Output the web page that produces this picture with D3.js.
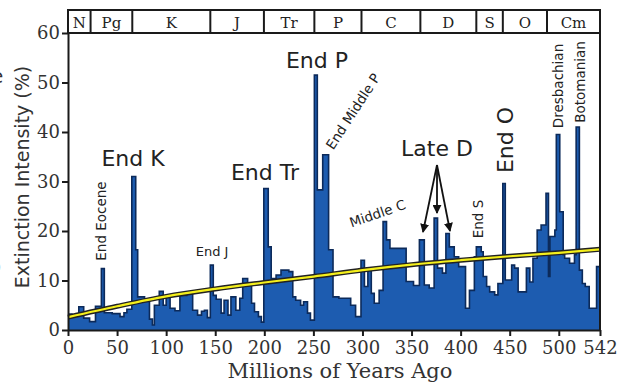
<!DOCTYPE html>
<html><head><meta charset="utf-8">
<script src="https://cdn.jsdelivr.net/npm/d3@7"></script>
<style>
html,body{margin:0;padding:0;background:#fff;overflow:hidden}
svg{display:block}
</style></head>
<body>
<svg id="chart" width="621" height="384"></svg>
<script>
// ---------- data ----------
const periodNames = ["N","Pg","K","J","Tr","P","C","D","S","O","Cm"];
const periodBounds = [0, 23, 65.5, 145, 199.6, 251, 299, 359, 416, 443, 488, 542];

// start of each step (Millions of years ago) and extinction intensity (%)
const stepStarts = [0,4,11,16,22,28,34,37,45,53,57,60,65,69,71,78,83,86,88,93,97,100,104,109,114,121,127,132,136,139,142,145,148,151,156,159,163,166,171,175,178,183,187,190,194,197,199.5,204,207,212,217,225,229,232,237,240,244,247,251,254,259.5,265.5,270,276,288,293,298.5,302,305.5,309,312,317,321,324.5,328,344.5,352,358,363,368,373,376.5,381.5,385,388.5,393.5,398,405,409,414,416,421,423,426.5,429.6,434.7,438,443,445.5,452,455,458.6,467,470.5,473.7,478,482,487,489.5,491,496,497.5,501,504.5,506,511,516,517.7,521,524,527,531,538.5];
const intensity = [3.2,2.8,4.7,2.4,1.7,4.8,12.4,3.5,3.3,2.7,3.5,4.2,31,16.2,6.7,6.3,2.2,1.0,5.0,7.8,5.0,6.7,4.4,3.9,7.0,7.7,4.0,3.0,3.8,4.0,2.5,13.1,7.0,6.2,3.4,6.0,3.0,6.7,4.0,6.4,10.4,9.4,5.4,3.7,2.7,1.6,28.6,16.8,10.4,11.1,12.1,11.8,6.7,6.0,5.0,5.7,3.4,2.0,51.5,28.3,35.4,16.2,6.7,6.4,5.0,2.7,14.1,8.8,12.1,7.4,5.4,8.0,21.9,18.2,16.5,9.8,9.0,18.2,9.1,8.5,22.6,12.5,11.5,19.5,16.8,14.8,12.8,4.4,8.0,14.8,16.8,15.8,10.8,8.8,7.7,7.1,9.4,29.6,10.1,13.1,12.5,7.7,12.5,9.7,14.5,20.2,21.2,27.6,10.8,18.9,20.2,39.5,23.9,15.2,14.5,13.5,15.2,41.0,12.1,9.4,8.8,4.4,12.8];
const endAge = 542;

// long-term trend (yellow line)
const trendAges = [0,50,100,150,200,250,300,350,400,450,500,542];
const trendValues = [2.6,4.8,6.8,8.3,9.6,10.8,12.1,13.2,14.1,14.9,15.6,16.3];

const xTicks = [0,50,100,150,200,250,300,350,400,450,500,542];
const yTicks = [0,10,20,30,40,50,60];

// ---------- layout ----------
const svg = d3.select("#chart");
const x = d3.scaleLinear().domain([0, 542]).range([68, 600]);
const y = d3.scaleLinear().domain([0, 60]).range([330, 33]);
const headerTop = 10;
const serif = "'DejaVu Serif', serif";
const sans = "'DejaVu Sans', sans-serif";

const steps = stepStarts.map((s, i) => ({age: s, v: intensity[i]}));
steps.push({age: endAge, v: intensity[intensity.length - 1]});

// histogram
const area = d3.area().curve(d3.curveStepAfter)
  .x(d => x(d.age)).y0(y(0)).y1(d => y(d.v));
const line = d3.line().curve(d3.curveStepAfter)
  .x(d => x(d.age)).y(d => y(d.v));
svg.append("path").datum(steps).attr("d", area).attr("fill", "#1d5cb0");
svg.append("path").datum(steps).attr("d", line)
  .attr("fill", "none").attr("stroke", "#0c2a5a").attr("stroke-width", 1.6);

// trend line
const trend = trendAges.map((a, i) => ({age: a, v: trendValues[i]}));
const tline = d3.line().curve(d3.curveMonotoneX).x(d => x(d.age)).y(d => y(d.v));
svg.append("path").datum(trend).attr("d", tline)
  .attr("fill", "none").attr("stroke", "#222").attr("stroke-width", 5);
svg.append("path").datum(trend).attr("d", tline)
  .attr("fill", "none").attr("stroke", "#f4ef1c").attr("stroke-width", 2.2);

// axes
const yAxis = d3.axisLeft(y).tickValues(yTicks).tickSize(6).tickPadding(2).tickSizeOuter(0);
const xAxis = d3.axisBottom(x).tickValues(xTicks).tickSize(6).tickPadding(5).tickSizeOuter(0);
const gy = svg.append("g").attr("transform", `translate(${x(0)},0)`).call(yAxis);
const gx = svg.append("g").attr("transform", `translate(0,${y(0)})`).call(xAxis);
[gx, gy].forEach(g => {
  g.selectAll("path").attr("stroke", "#1a1a1a").attr("stroke-width", 2);
  g.selectAll("line").attr("stroke", "#1a1a1a").attr("stroke-width", 2);
  g.selectAll("text").attr("font-family", serif).attr("font-size", 18).attr("fill", "#333");
});

// frame (right edge)
svg.append("line").attr("x1", x(542)).attr("x2", x(542)).attr("y1", headerTop).attr("y2", y(0))
  .attr("stroke", "#1a1a1a").attr("stroke-width", 2);
svg.append("line").attr("x1", x(0)).attr("x2", x(0)).attr("y1", headerTop).attr("y2", y(60))
  .attr("stroke", "#1a1a1a").attr("stroke-width", 2);

// header with geological periods
const header = svg.append("g");
header.append("rect").attr("x", x(0)).attr("y", headerTop).attr("width", x(542) - x(0))
  .attr("height", y(60) - headerTop).attr("fill", "#fff").attr("stroke", "#1a1a1a").attr("stroke-width", 2);
periodNames.forEach((p, i) => {
  const a = periodBounds[i], b = periodBounds[i + 1];
  if (i > 0) header.append("line").attr("x1", x(a)).attr("x2", x(a))
    .attr("y1", headerTop).attr("y2", y(60)).attr("stroke", "#1a1a1a").attr("stroke-width", 2);
  header.append("text").attr("x", (x(a) + x(b)) / 2).attr("y", 28)
    .attr("text-anchor", "middle").attr("font-family", serif).attr("font-size", 15)
    .attr("fill", "#222").text(p);
});

// axis titles
svg.append("text").attr("x", 340).attr("y", 378).attr("text-anchor", "middle")
  .attr("font-family", serif).attr("font-size", 21).attr("fill", "#333").text("Millions of Years Ago");
svg.append("text").attr("transform", "translate(29,177) rotate(-90)").attr("text-anchor", "middle")
  .attr("font-family", sans).attr("font-size", 19).attr("fill", "#333").text("Extinction Intensity (%)");

// cropped fragments at left edge (as in the reference)
svg.append("text").attr("x", -9).attr("y", 83).attr("font-family", sans).attr("font-size", 20)
  .attr("fill", "#333").text("e");
svg.append("text").attr("x", -5).attr("y", 272).attr("font-family", sans).attr("font-size", 16)
  .attr("fill", "#333").text(")");

// annotations
function label(txt, px, py, size, rot) {
  svg.append("text").attr("transform", `translate(${px},${py}) rotate(${rot || 0})`)
    .attr("text-anchor", "middle").attr("font-family", sans).attr("font-size", size)
    .attr("fill", "#222").text(txt);
}
label("End K", 133, 166, 22);
label("End Tr", 265, 180, 22);
label("End P", 317, 68, 22);
label("Late D", 437, 156, 22);
label("End O", 513, 140, 22, -90);
label("End J", 212, 256, 13);
label("End Eocene", 106, 221, 13.5, -90);
label("End S", 483, 219, 13.5, -90);
label("Dresbachian", 563, 86, 13.5, -90);
label("Botomanian", 585, 82, 13.5, -90);
label("End Middle P", 357, 114, 13.5, -57);
label("Middle C", 379, 218, 13.5, -19);

// arrows for Late D
const defs = svg.append("defs");
defs.append("marker").attr("id", "ah").attr("viewBox", "0 0 10 10").attr("refX", 9).attr("refY", 5)
  .attr("markerWidth", 5).attr("markerHeight", 5).attr("orient", "auto")
  .append("path").attr("d", "M0,0 L10,5 L0,10 z").attr("fill", "#111");
const arrowOrigin = [437, 165];
[[423, 232], [437, 213], [450, 231]].forEach(t => {
  svg.append("line").attr("x1", arrowOrigin[0]).attr("y1", arrowOrigin[1])
    .attr("x2", t[0]).attr("y2", t[1]).attr("stroke", "#111").attr("stroke-width", 1.8)
    .attr("marker-end", "url(#ah)");
});
</script>
</body></html>
